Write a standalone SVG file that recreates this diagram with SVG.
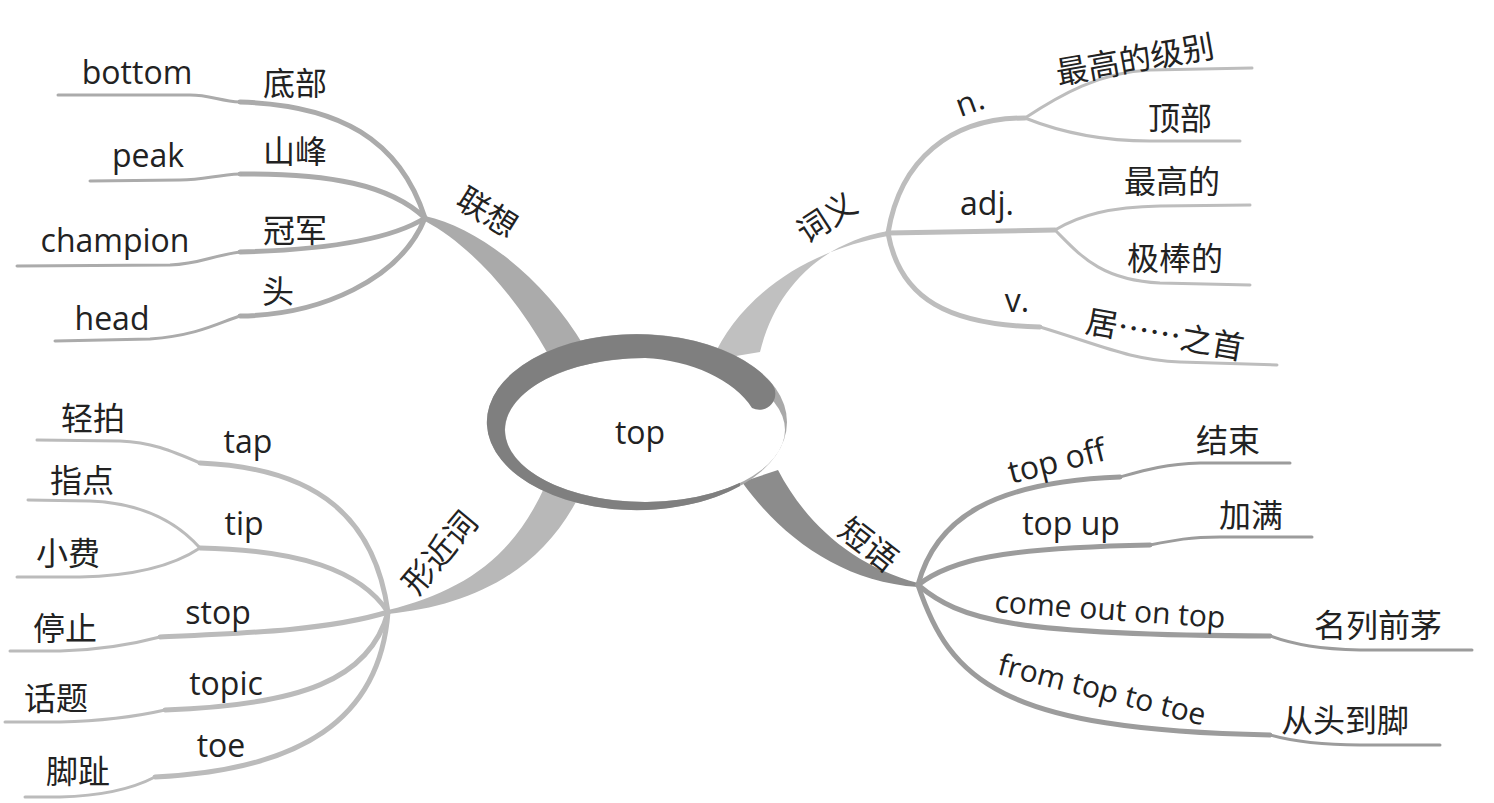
<svg xmlns="http://www.w3.org/2000/svg" width="1494" height="803" viewBox="0 0 1494 803">
<style>
text{font-family:"Open Sans","Noto Sans CJK SC",sans-serif;font-size:32px;fill:#222;text-anchor:middle}
.cn{font-family:"Noto Sans CJK SC","Open Sans",sans-serif;font-size:32px}
.b{fill:none;stroke-linecap:round}
.in{stroke-width:5}
.out{stroke-width:3}
.ul{stroke:#ababab}
.ur{stroke:#bdbdbd}
.ll{stroke:#bbbbbb}
.lr{stroke:#9c9c9c}
</style>
<rect width="1494" height="803" fill="#fff"/>
<g id="connectors">
<!-- trunks -->
<path d="M425,216 C480,228 545,280 584,346 L548,354 C515,295 470,245 425,221 Z" fill="#ababab"/>
<path d="M888,231 C820,243 775,290 760,352 L712,360 C738,300 800,252 888,236 Z" fill="#c0c0c0"/>
<path d="M388,610 C460,592 512,560 545,486 L580,494 C542,572 470,606 388,614 Z" fill="#b8b8b8"/>
<path d="M778,470 C805,522 852,566 918,583 L918,587 C840,582 780,535 742,482 Z" fill="#8c8c8c"/>
<!-- upper-left -->
<path class="b in ul" d="M425,218 C400,140 340,105 240,102"/>
<path class="b out ul" d="M240,102 C220,101 210,95 190,95 L58,95"/>
<path class="b in ul" d="M425,218 C390,185 330,173 240,174"/>
<path class="b out ul" d="M240,174 C215,175 205,180 180,180 L90,181"/>
<path class="b in ul" d="M425,218 C390,240 320,250 240,252"/>
<path class="b out ul" d="M240,252 C210,256 200,264 170,265 L17,266"/>
<path class="b in ul" d="M425,218 C400,280 320,315 240,316"/>
<path class="b out ul" d="M240,316 C220,322 200,335 150,339 L55,341"/>
<!-- upper-right -->
<path class="b in ur" d="M888,233 C900,160 950,118 1025,118"/>
<path class="b out ur" d="M1025,118 C1060,95 1100,72 1150,70 L1252,68"/>
<path class="b out ur" d="M1025,118 C1060,132 1100,141 1150,141 L1240,141"/>
<path class="b in ur" d="M888,233 L1055,230"/>
<path class="b out ur" d="M1055,230 C1080,215 1110,207 1160,206 L1250,205"/>
<path class="b out ur" d="M1055,230 C1080,255 1100,280 1160,283 L1250,285"/>
<path class="b in ur" d="M888,233 C900,300 950,325 1040,327"/>
<path class="b out ur" d="M1040,327 C1100,345 1130,360 1180,362 L1277,365"/>
<!-- lower-left -->
<path class="b in ll" d="M388,612 C375,520 320,468 200,463"/>
<path class="b out ll" d="M200,463 C170,450 150,442 120,441 L37,440"/>
<path class="b in ll" d="M388,612 C360,570 300,550 200,548"/>
<path class="b out ll" d="M200,548 C175,520 140,503 90,501 L28,500"/>
<path class="b out ll" d="M200,548 C170,568 130,576 80,577 L17,577"/>
<path class="b in ll" d="M388,612 C330,630 250,633 160,637"/>
<path class="b out ll" d="M160,637 C130,645 100,650 60,651 L10,651"/>
<path class="b in ll" d="M388,612 C370,680 300,705 165,710"/>
<path class="b out ll" d="M165,710 C130,718 100,721 60,722 L5,722"/>
<path class="b in ll" d="M388,612 C380,720 300,770 155,777"/>
<path class="b out ll" d="M155,777 C130,790 100,796 60,797 L25,797"/>
<!-- lower-right -->
<path class="b in lr" d="M918,585 C935,520 990,482 1120,477"/>
<path class="b out lr" d="M1120,477 C1145,470 1165,464 1200,463 L1290,463"/>
<path class="b in lr" d="M918,585 C950,560 1000,548 1150,545"/>
<path class="b out lr" d="M1150,545 C1175,540 1190,537 1220,537 L1312,537"/>
<path class="b in lr" d="M918,585 C960,620 1010,635 1270,636"/>
<path class="b out lr" d="M1270,636 C1295,645 1320,649 1360,650 L1472,650"/>
<path class="b in lr" d="M918,585 C950,680 1000,730 1270,735"/>
<path class="b out lr" d="M1270,735 C1295,742 1320,745 1360,745 L1440,745"/>
</g>
<g id="center">
<ellipse cx="637" cy="422" rx="150" ry="88" fill="#a9a9a9"/>
<ellipse cx="645" cy="430" rx="140" ry="72" fill="#fff"/>
<path d="M772,384 A150,88 0 1 0 740,486 L740,482.8 A140,72 0 1 1 645,358 C690,360 735,380 752,408 A16,16 0 0 0 772,384 Z" fill="#7f7f7f"/>
<text x="640" y="444">top</text>
</g>
<g id="lianxiang">
<text class="cn" transform="translate(487,213) rotate(32)" y="11">联想</text>
<text x="137" y="84">bottom</text><text class="cn" x="295" y="95">底部</text>
<text x="148" y="167">peak</text><text class="cn" x="295" y="163">山峰</text>
<text x="115" y="252">champion</text><text class="cn" x="295" y="242">冠军</text>
<text x="112" y="330">head</text><text class="cn" x="278" y="303">头</text>
</g>
<g id="ciyi">
<text class="cn" transform="translate(827,218) rotate(-33)" y="11">词义</text>
<text transform="translate(970,103) rotate(-20)" y="10">n.</text>
<text class="cn" transform="translate(1135,60) rotate(-10)" y="11">最高的级别</text>
<text class="cn" x="1180" y="130">顶部</text>
<text x="987" y="215">adj.</text>
<text class="cn" x="1172" y="193">最高的</text>
<text class="cn" x="1175" y="270">极棒的</text>
<text x="1017" y="312">v.</text>
<text class="cn" transform="translate(1165,335) rotate(10)" y="11">居……之首</text>
</g>
<g id="xingjinci">
<text class="cn" transform="translate(440,553) rotate(-50)" y="11">形近词</text>
<text class="cn" x="93" y="430">轻拍</text><text x="248" y="453">tap</text>
<text class="cn" x="82" y="492">指点</text><text x="244" y="535">tip</text>
<text class="cn" x="68" y="565">小费</text>
<text x="218" y="624">stop</text><text class="cn" x="65" y="640">停止</text>
<text x="226" y="695">topic</text><text class="cn" x="56" y="710">话题</text>
<text x="221" y="757">toe</text><text class="cn" x="78" y="783">脚趾</text>
</g>
<g id="duanyu">
<text class="cn" transform="translate(868,545) rotate(38)" y="11">短语</text>
<text transform="translate(1057,462) rotate(-14)" y="10">top off</text>
<text class="cn" x="1228" y="452">结束</text>
<text x="1071" y="535">top up</text>
<text class="cn" x="1251" y="527">加满</text>
<text transform="translate(1110,610) rotate(4)" y="10" style="font-size:30px">come out on top</text>
<text class="cn" x="1378" y="637">名列前茅</text>
<text transform="translate(1102,690) rotate(14)" y="10" style="font-size:30px">from top to toe</text>
<text class="cn" x="1345" y="732">从头到脚</text>
</g>
</svg>
